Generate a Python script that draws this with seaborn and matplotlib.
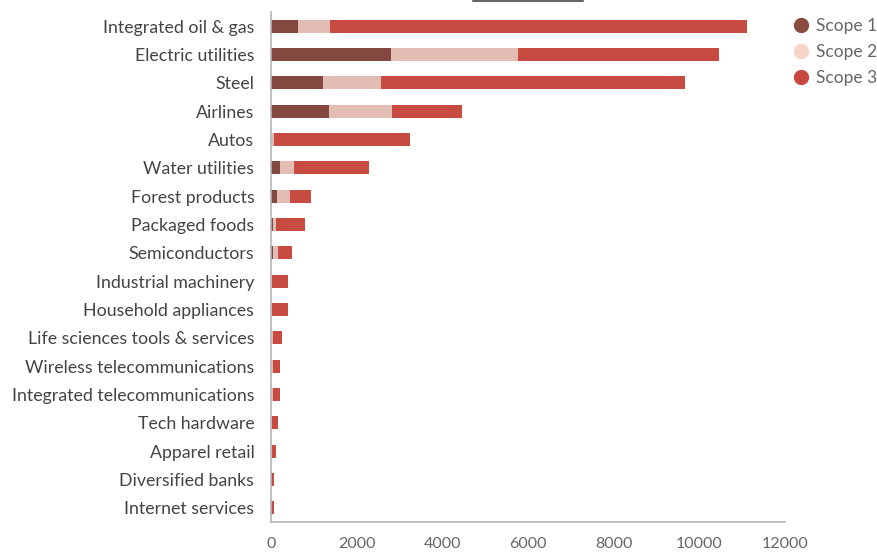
import matplotlib
matplotlib.use("Agg")
import matplotlib.pyplot as plt
from matplotlib.lines import Line2D
import seaborn as sns
import pandas as pd
import numpy as np

categories = ["Integrated oil & gas", "Electric utilities", "Steel", "Airlines", "Autos",
              "Water utilities", "Forest products", "Packaged foods", "Semiconductors",
              "Industrial machinery", "Household appliances", "Life sciences tools & services",
              "Wireless telecommunications", "Integrated telecommunications", "Tech hardware",
              "Apparel retail", "Diversified banks", "Internet services"]
scope1 = [640, 2800, 1210, 1350, 10, 200, 150, 50, 40, 10, 10, 10, 10, 10, 5, 5, 5, 5]
scope2 = [730, 2960, 1360, 1465, 50, 340, 300, 60, 115, 10, 10, 45, 45, 45, 10, 10, 5, 5]
scope3 = [9750, 4690, 7100, 1640, 3190, 1740, 475, 676, 343, 377, 380, 200, 155, 155, 140, 95, 50, 50]
series_names = ["Scope 1", "Scope 2", "Scope 3"]
xticks = [0, 2000, 4000, 6000, 8000, 10000, 12000]

bar_colors = ["#834840", "#E1BDB4", "#C84B42"]
legend_colors = ["#8A4A3D", "#F7D3C8", "#C84840"]

sns.set_theme(style="white")
plt.rcParams["font.family"] = ["Lato", "DejaVu Sans"]

df = pd.DataFrame({"category": categories, "s1": scope1, "s2": scope2, "s3": scope3})
df["c1"] = df["s1"]
df["c2"] = df["s1"] + df["s2"]
df["c3"] = df["c2"] + df["s3"]

fig = plt.figure(figsize=(8.78, 5.53), dpi=100)
ax = fig.add_axes([271/878, 1 - 522/553, (785 - 271)/878, (522 - 12)/553])

for col, color in zip(["c3", "c2", "c1"], [bar_colors[2], bar_colors[1], bar_colors[0]]):
    sns.barplot(data=df, x=col, y="category", orient="h", color=color, width=0.46,
                saturation=1, ax=ax, linewidth=0)

ax.set_xlim(0, 12000)
ax.set_xticks(xticks)
ax.set_xticklabels([str(t) for t in xticks])
ax.set_xlabel("")
ax.set_ylabel("")
ax.tick_params(axis="x", length=0, pad=11, labelsize=11.5, labelcolor="#666666")
ax.tick_params(axis="y", length=0, pad=12, labelsize=12.8, labelcolor="#444444")
for s in ["top", "right"]:
    ax.spines[s].set_visible(False)
for s in ["left", "bottom"]:
    ax.spines[s].set_color("#b5b5b5")
    ax.spines[s].set_linewidth(1.2)

handles = [Line2D([0], [0], marker="o", linestyle="", markersize=10,
                  markerfacecolor=c, markeredgecolor=c) for c in legend_colors]
fig.legend(handles, series_names, loc="upper left", bbox_to_anchor=(792/878, 1 - 18/553),
           frameon=False, fontsize=12.5, labelcolor="#666666", handlelength=1.0,
           handletextpad=0.4, labelspacing=0.58, borderaxespad=0, borderpad=0)

fig.add_artist(Line2D([473/878, 583/878], [1 - 1/553, 1 - 1/553], color="#666666", linewidth=1.5))

fig.savefig("out.png", dpi=100)
